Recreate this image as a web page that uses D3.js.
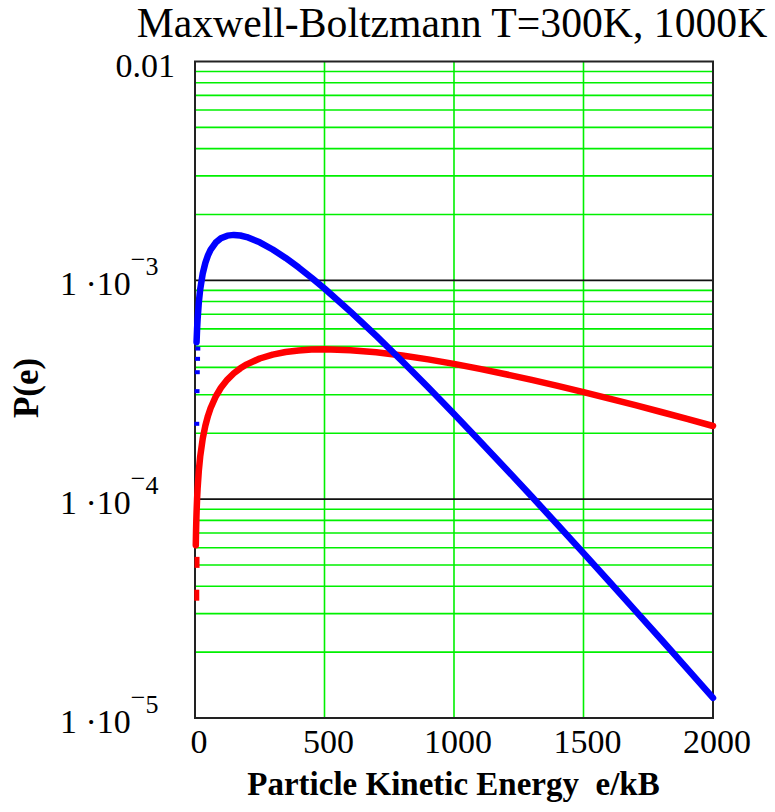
<!DOCTYPE html>
<html>
<head>
<meta charset="utf-8">
<script src="https://cdn.jsdelivr.net/npm/d3@7"></script>
<style>
  html, body { margin: 0; padding: 0; background: #fff; }
  svg { display: block; }
</style>
</head>
<body>
<svg id="chart" width="775" height="812" font-family="Liberation Serif"></svg>
<script>
// ---- data ----
const energies = [1, 2, 3, 4, 5, 6, 8, 10, 15, 20, 30, 40, 50, 60, 80, 100, 125, 150, 175, 200,
  250, 300, 350, 400, 450, 500, 600, 700, 800, 900, 1000, 1100, 1200, 1300, 1400, 1500,
  1600, 1700, 1800, 1900, 2000];
const p300K = [2.164e-4, 3.051e-4, 3.724e-4, 4.286e-4, 4.776e-4, 5.214e-4, 5.980e-4, 6.642e-4,
  8.000e-4, 9.085e-4, 1.0762e-3, 1.2020e-3, 1.2998e-3, 1.3772e-3, 1.4877e-3, 1.5560e-3,
  1.6006e-3, 1.6131e-3, 1.6030e-3, 1.5767e-3, 1.4922e-3, 1.3837e-3, 1.2651e-3, 1.1449e-3,
  1.0279e-3, 9.172e-4, 7.199e-4, 5.572e-4, 4.268e-4, 3.244e-4, 2.450e-4, 1.841e-4, 1.378e-4,
  1.028e-4, 7.641e-5, 5.667e-5, 4.194e-5, 3.097e-5, 2.284e-5, 1.681e-5, 1.236e-5];
const p1000K = [3.565e-5, 5.036e-5, 6.162e-5, 7.108e-5, 7.939e-5, 8.688e-5, 1.0012e-4, 1.1172e-4,
  1.3614e-4, 1.5642e-4, 1.8967e-4, 2.1683e-4, 2.4001e-4, 2.6030e-4, 2.9462e-4, 3.2287e-4,
  3.5207e-4, 3.7615e-4, 3.9626e-4, 4.1315e-4, 4.3939e-4, 4.5786e-4, 4.7042e-4, 4.7838e-4,
  4.8265e-4, 4.8394e-4, 4.7968e-4, 4.6881e-4, 4.5349e-4, 4.3522e-4, 4.1511e-4, 3.9394e-4,
  3.7230e-4, 3.5063e-4, 3.2924e-4, 3.0836e-4, 2.8817e-4, 2.6877e-4, 2.5024e-4, 2.3264e-4,
  2.1596e-4];
const xTicks = [0, 500, 1000, 1500, 2000];
const yDecades = [1e-2, 1e-3, 1e-4, 1e-5];
const yTickBase = ["0.01", "1 \u00b710", "1 \u00b710", "1 \u00b710"];
const yTickExp = ["", "3", "4", "5"];
const titleText = "Maxwell-Boltzmann T=300K, 1000K";
const xLabelText = "Particle Kinetic Energy\u00a0\u00a0e/kB";
const yLabelText = "P(e)";

// ---- layout ----
const FONT = "Liberation Serif";
const L = 195, R = 713, T = 61.5, B = 718;
const svg = d3.select("#chart");
const x = d3.scaleLinear().domain([0, 2000]).range([L, R]);
const y = d3.scaleLog().domain([1e-5, 1e-2]).range([B, T]);

// minor horizontal grid (green)
const minorVals = [];
[1e-5, 1e-4, 1e-3].forEach(d => { for (let k = 2; k <= 9; k++) minorVals.push(d * k); });
svg.append("g").selectAll("line").data(minorVals).join("line")
  .attr("x1", L).attr("x2", R)
  .attr("y1", d => y(d)).attr("y2", d => y(d))
  .attr("stroke", "#00f000").attr("stroke-width", 1.6);
// vertical grid (green)
svg.append("g").selectAll("line").data(xTicks.slice(1, -1)).join("line")
  .attr("x1", d => x(d)).attr("x2", d => x(d))
  .attr("y1", T).attr("y2", B)
  .attr("stroke", "#00f000").attr("stroke-width", 1.6);
// decade lines (black)
svg.append("g").selectAll("line").data(yDecades.slice(1, -1)).join("line")
  .attr("x1", L).attr("x2", R)
  .attr("y1", d => y(d)).attr("y2", d => y(d))
  .attr("stroke", "#111").attr("stroke-width", 1.8);

// frame
svg.append("rect").attr("x", L).attr("y", T).attr("width", R - L).attr("height", B - T)
  .attr("fill", "none").attr("stroke", "#222").attr("stroke-width", 2);

// curves
function drawSeries(vals, color, lineStart, markH) {
  const pts = energies.map((e, i) => [e, vals[i]]);
  const linePts = pts.filter(p => p[0] >= lineStart);
  const markPts = pts.filter(p => p[0] < lineStart);
  svg.append("path").datum(linePts)
    .attr("d", d3.line().x(d => x(d[0])).y(d => y(d[1])))
    .attr("fill", "none").attr("stroke", color).attr("stroke-width", 6.5)
    .attr("stroke-linejoin", "round").attr("stroke-linecap", "round");
  svg.append("g").selectAll("rect").data(markPts).join("rect")
    .attr("x", d => x(d[0]) - 1).attr("y", d => y(d[1]) - markH / 2 - 2)
    .attr("width", 5).attr("height", markH).attr("fill", color);
}
drawSeries(p1000K, "#ff0000", 3, 11);
drawSeries(p300K, "#0000ff", 6, 4);

// x tick labels
svg.append("g").selectAll("text").data(xTicks).join("text")
  .attr("font-family", FONT)
  .attr("x", d => x(d) + 4).attr("y", 753)
  .attr("text-anchor", "middle").attr("font-size", 34)
  .text(d => d);

// y tick labels
const yl = svg.append("g").selectAll("text").data(yDecades).join("text")
  .attr("font-family", FONT)
  .attr("font-size", 34)
  .attr("y", d => y(d) + 15)
  .attr("x", (d, i) => yTickExp[i] ? 60 : 175)
  .attr("text-anchor", (d, i) => yTickExp[i] ? "start" : "end");
yl.append("tspan").text((d, i) => yTickBase[i]);
yl.filter((d, i) => yTickExp[i] !== "").append("tspan")
  .attr("font-size", 26).attr("dy", -27).text("\u2212");
yl.filter((d, i) => yTickExp[i] !== "").append("tspan")
  .attr("font-size", 26).attr("dy", 7).text(d => yTickExp[yDecades.indexOf(d)]);

// title
svg.append("text").attr("font-family", FONT)
  .attr("x", 452).attr("y", 37).attr("text-anchor", "middle")
  .attr("font-size", 41.7).text(titleText);

// x axis title
svg.append("text").attr("font-family", FONT)
  .attr("x", 453.5).attr("y", 795).attr("text-anchor", "middle")
  .attr("font-size", 33).attr("font-weight", "bold")
  .text(xLabelText);

// y axis title
svg.append("text").attr("font-family", FONT)
  .attr("transform", "translate(38,388) rotate(-90)")
  .attr("text-anchor", "middle").attr("font-size", 35).attr("font-weight", "bold")
  .text(yLabelText);
</script>
</body>
</html>
